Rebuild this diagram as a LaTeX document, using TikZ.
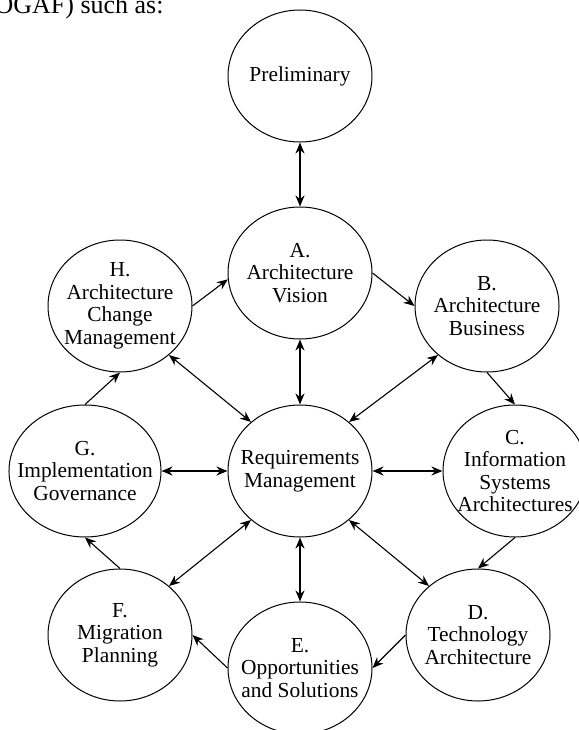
\documentclass[tikz,border=0pt]{standalone}
\usepackage{fontspec}
\setmainfont{Liberation Serif}
\usetikzlibrary{shapes.geometric,arrows.meta}
\begin{document}
\begin{tikzpicture}[x=1pt,y=-1pt,>={Stealth[length=11pt,width=9pt]},
	phase/.style={draw,ellipse,line width=1pt,minimum width=144pt,minimum height=132pt,
		inner sep=-14pt,align=center,font=\fontsize{21.4}{22.5}\selectfont},
	both/.style={<->,line width=1.8pt},
	diag/.style={<->,line width=1.1pt},
	flow/.style={->,line width=1.1pt}]
	\useasboundingbox (0,0) rectangle (578,730);
	\node[anchor=base west,inner sep=0,font=\fontsize{26}{30}\selectfont] (intro) at (-21,14) {TOGAF) such as:};

	\node[phase] (prel) at (300,76) {Preliminary};
	\node[phase] (A) at (300,273) {A.\\Architecture\\Vision};
	\node[phase] (B) at (487,306) {B.\\Architecture\\Business};
	\node[phase] (C) at (515,471) {C.\\Information\\Systems\\Architectures};
	\node[phase] (D) at (478,635) {D.\\Technology\\Architecture};
	\node[phase] (E) at (300,668) {E.\\Opportunities\\and Solutions};
	\node[phase] (F) at (120,635) {F.\\Migration\\Planning};
	\node[phase] (G) at (85,471) {G.\\Implementation\\Governance};
	\node[phase] (H) at (120,306) {H.\\Architecture\\Change\\Management};
	\node[phase] (req) at (300,471) {Requirements\\Management};

	\draw[both] (prel) -- (A);
	\draw[both] (A) -- (req);
	\draw[both] (req) -- (E);
	\draw[both] (G) -- (req);
	\draw[both] (req) -- (C);
	\draw[diag] (H.-45) -- (req.135);
	\draw[diag] (B.-135) -- (req.45);
	\draw[diag] (req.-45) -- (D.135);
	\draw[diag] (req.-135) -- (F.45);

	\draw[flow] (H.east) -- (A.185);
	\draw[flow] (A.east) -- (B.west);
	\draw[flow] (B.south) -- (C.north);
	\draw[flow] (C.south) -- (D.north);
	\draw[flow] (D.west) -- (E.east);
	\draw[flow] (E.west) -- (F.east);
	\draw[flow] (F.north) -- (G.south);
	\draw[flow] (G.north) -- (H.south);
\end{tikzpicture}
\end{document}
